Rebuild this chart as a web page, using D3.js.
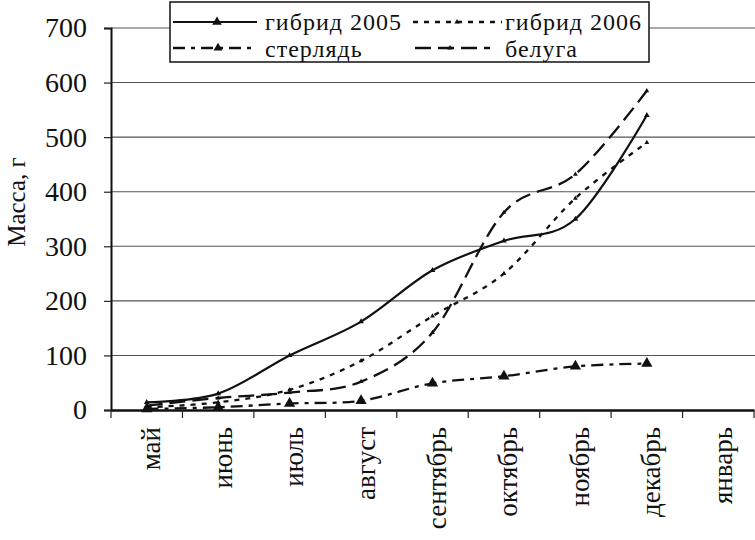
<!DOCTYPE html>
<html><head><meta charset="utf-8">
<script src="https://cdn.jsdelivr.net/npm/d3@7"></script>
<style>
html,body{margin:0;padding:0;background:#fff;}
</style></head>
<body><svg id="chart" width="755" height="540"></svg>
<script>
const months = ["май","июнь","июль","август","сентябрь","октябрь","ноябрь","декабрь","январь"];
const hybrid2005 = [14, 30, 100, 162, 256, 310, 350, 540];
const hybrid2006 = [5, 14, 37, 90, 172, 250, 388, 490];
const sterlet = [2, 5, 12, 17, 49, 62, 80, 85];
const beluga = [8, 22, 32, 52, 142, 362, 432, 585];
const yTicks = [0, 100, 200, 300, 400, 500, 600, 700];
const seriesNames = ["гибрид 2005", "гибрид 2006", "стерлядь", "белуга"];

(function () {
const FONT = "'Liberation Serif'";
const svg = d3.select("#chart");
const W = 755;
const mLeft = 111, mRight = 754, mTop = 28, mBottom = 410;

const x = d3.scaleBand().domain(months).range([mLeft, mRight]).padding(0);
const y = d3.scaleLinear().domain([0, 700]).range([mBottom, mTop]);

// gridlines
svg.append("g").selectAll("line").data(yTicks.filter(d => d > 0)).join("line")
  .attr("x1", mLeft).attr("x2", W).attr("y1", d => y(d)).attr("y2", d => y(d))
  .attr("stroke", "#555").attr("stroke-width", 1.1);

// y axis
const yAxis = svg.append("g").attr("transform", `translate(${mLeft},0)`)
  .call(d3.axisLeft(y).tickValues(yTicks).tickSize(7).tickPadding(17));
yAxis.select(".domain").attr("stroke", "#111").attr("stroke-width", 2);
yAxis.selectAll(".tick line").attr("stroke", "#222").attr("stroke-width", 1.2);
yAxis.selectAll("text").attr("font-size", 28).attr("fill", "#111").style("font-family", FONT);

// x axis
const xAxis = svg.append("g").attr("transform", `translate(0,${mBottom})`)
  .call(d3.axisBottom(x).tickSize(0).tickFormat(""));
xAxis.select(".domain").attr("stroke", "#111").attr("stroke-width", 2.5);
const bounds = months.map(m => x(m)).concat([x(months[months.length-1]) + x.bandwidth()]);
svg.append("g").selectAll("line").data(bounds).join("line")
  .attr("x1", d => d).attr("x2", d => d).attr("y1", mBottom).attr("y2", mBottom + 8)
  .attr("stroke", "#222").attr("stroke-width", 1.2);
svg.append("g").selectAll("text").data(months).join("text")
  .attr("transform", d => `translate(${x(d) + x.bandwidth()/2 + 4},${mBottom + 17}) rotate(-90)`)
  .attr("text-anchor", "end").attr("dy", "0.35em").style("font-family", FONT)
  .attr("font-size", 27).attr("fill", "#111").text(d => d);

// y title
svg.append("text").attr("transform", "translate(25,202) rotate(-90)").style("font-family", FONT)
  .attr("text-anchor", "middle").attr("font-size", 25).attr("fill", "#111").text("Масса, г");

const cx = (i) => x(months[i]) + x.bandwidth()/2;
const line = d3.line().x((d, i) => cx(i)).y(d => y(d)).curve(d3.curveCatmullRom.alpha(0));

const styles = [
  {data: hybrid2005, dash: null, width: 2.2, msize: 14},
  {data: hybrid2006, dash: "5,6", width: 2.3, msize: 10},
  {data: sterlet, dash: "12,6,4,6", width: 2.3, msize: 55},
  {data: beluga, dash: "16,7", width: 2.3, msize: 10}
];

styles.forEach(s => {
  svg.append("path").datum(s.data).attr("d", line)
    .attr("fill", "none").attr("stroke", "#111").attr("stroke-width", s.width)
    .attr("stroke-dasharray", s.dash);
  svg.append("g").selectAll("path").data(s.data).join("path")
    .attr("transform", (d, i) => `translate(${cx(i)},${y(d)})`)
    .attr("d", d3.symbol(d3.symbolTriangle, s.msize)()).attr("fill", "#111");
});

// legend
const lg = svg.append("g");
lg.append("rect").attr("x", 170).attr("y", 2).attr("width", 479).attr("height", 60)
  .attr("fill", "#fff").attr("stroke", "#111").attr("stroke-width", 1.5);
const legendPos = [
  {x1: 173, x2: 257, m: 217, ly: 22, tx: 265, ty: 30, msize: 40},
  {x1: 413, x2: 502, m: 457, ly: 22, tx: 505, ty: 30, msize: 12},
  {x1: 173, x2: 252, m: 218, ly: 48, tx: 265, ty: 57, msize: 35},
  {x1: 415, x2: 490, m: 450, ly: 48, tx: 505, ty: 57, msize: 12}
];
seriesNames.forEach((name, i) => {
  const p = legendPos[i], s = styles[i];
  lg.append("line").attr("x1", p.x1).attr("x2", p.x2).attr("y1", p.ly).attr("y2", p.ly)
    .attr("stroke", "#111").attr("stroke-width", s.width).attr("stroke-dasharray", s.dash);
  lg.append("path").attr("transform", `translate(${p.m},${p.ly})`)
    .attr("d", d3.symbol(d3.symbolTriangle, p.msize)()).attr("fill", "#111");
  lg.append("text").attr("x", p.tx).attr("y", p.ty).attr("font-size", 24).style("font-family", FONT)
    .style("letter-spacing", "1px").attr("fill", "#111").text(name);
});
})();
</script></body></html>
